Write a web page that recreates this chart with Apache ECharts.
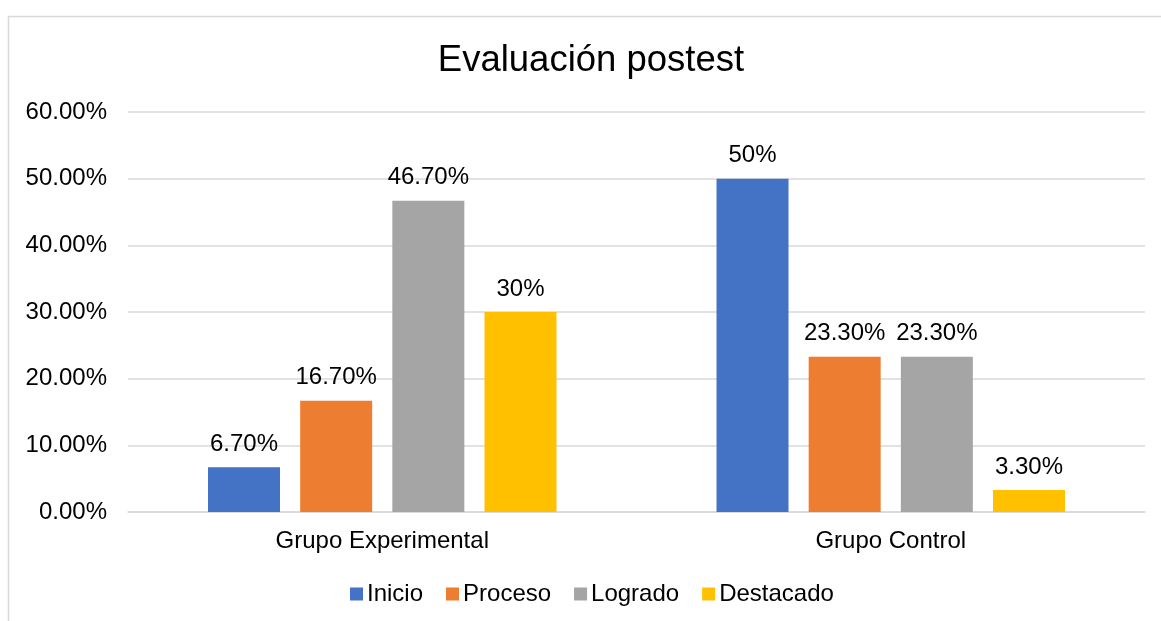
<!DOCTYPE html>
<html>
<head>
<meta charset="utf-8">
<script src="https://cdn.jsdelivr.net/npm/echarts@6/dist/echarts.min.js"></script>
<style>html,body{margin:0;padding:0;background:#fff}#c{width:1161px;height:621px}</style>
</head>
<body>
<div id="c"></div>
<script>
const categories = ['Grupo Experimental', 'Grupo Control'];
const seriesNames = ['Inicio', 'Proceso', 'Logrado', 'Destacado'];
const inicio = [6.7, 50];
const proceso = [16.7, 23.3];
const logrado = [46.7, 23.3];
const destacado = [30, 3.3];
const inicioLabels = ['6.70%', '50%'];
const procesoLabels = ['16.70%', '23.30%'];
const logradoLabels = ['46.70%', '23.30%'];
const destacadoLabels = ['30%', '3.30%'];
const colors = ['#4472C4', '#ED7D31', '#A5A5A5', '#FFC000'];

const FONT = '"Liberation Sans", Arial, sans-serif';
const values = [inicio, proceso, logrado, destacado];
const labels = [inicioLabels, procesoLabels, logradoLabels, destacadoLabels];

const chart = echarts.init(document.getElementById('c'));
chart.setOption({
  animation: false,
  backgroundColor: '#fff',
  color: colors,
  graphic: [{
    type: 'rect', silent: true,
    shape: { x: 8.5, y: 16.5, width: 1300, height: 800 },
    style: { fill: 'none', stroke: '#d9d9d9', lineWidth: 1.5 }
  }],
  title: {
    text: 'Evaluación postest',
    left: 591, top: 42, textAlign: 'center',
    padding: 0,
    textStyle: { fontFamily: FONT, fontSize: 36.5, fontWeight: 'normal', color: '#000' }
  },
  legend: {
    data: seriesNames,
    left: 350, top: 582,
    padding: 0,
    itemWidth: 13, itemHeight: 13, itemGap: 23,
    icon: 'rect',
    textStyle: { fontFamily: FONT, fontSize: 24, color: '#000', padding: [0, 0, 0, -1] }
  },
  grid: { left: 128, right: 16, top: 112, bottom: 109 },
  xAxis: {
    type: 'category',
    data: categories,
    axisLine: { lineStyle: { color: '#d9d9d9', width: 1.5 } },
    axisTick: { show: false },
    axisLabel: { fontFamily: FONT, fontSize: 24, color: '#000', margin: 17 }
  },
  yAxis: {
    type: 'value', min: 0, max: 60, interval: 10,
    axisLine: { show: false }, axisTick: { show: false },
    splitLine: { lineStyle: { color: '#d9d9d9', width: 1.5 } },
    axisLabel: { fontFamily: FONT, fontSize: 24, color: '#000', margin: 21,
      formatter: v => v.toFixed(2) + '%' }
  },
  series: seriesNames.map((n, i) => ({
    name: n, type: 'bar',
    data: values[i],
    barWidth: 72, barGap: '28%',
    label: {
      show: true, position: 'top', distance: 11,
      fontFamily: FONT, fontSize: 24, color: '#000',
      formatter: p => labels[i][p.dataIndex]
    }
  }))
});
</script>
</body>
</html>
